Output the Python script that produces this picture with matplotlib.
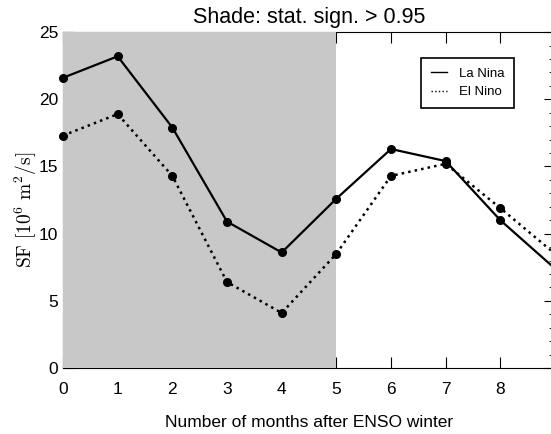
import numpy as np
import matplotlib
matplotlib.use("Agg")
import matplotlib.pyplot as plt
from matplotlib.ticker import MultipleLocator

plt.rcParams['font.family'] = ['Liberation Sans', 'DejaVu Sans']
plt.rcParams['mathtext.fontset'] = 'cm'

months = np.arange(10)
la_nina = [21.6, 23.2, 17.9, 10.9, 8.6, 12.6, 16.3, 15.4, 11.0, 7.4]
el_nino = [17.3, 18.9, 14.3, 6.4, 4.1, 8.5, 14.3, 15.2, 11.9, 8.5]
shade_end = 5

fig = plt.figure(figsize=(5.51, 4.34), dpi=100)
ax = fig.add_axes([0.1143, 0.152, 0.893, 0.774])

ax.axvspan(0, shade_end, color='#c8c8c8', lw=0, zorder=3)
ax.plot(months, la_nina, '-', color='k', lw=1.6, marker='o', ms=5.5, zorder=4,
        label='La Nina', clip_on=False)
ax.plot(months, el_nino, ':', color='k', lw=1.8, marker='o', ms=5.5, zorder=4,
        label='El Nino', clip_on=False)

ax.set_xlim(0, 9)
ax.set_ylim(0, 25)
ax.xaxis.set_major_locator(MultipleLocator(1))
ax.yaxis.set_major_locator(MultipleLocator(5))
ax.yaxis.set_minor_locator(MultipleLocator(1))
ax.tick_params(which='both', direction='in', top=True, right=True,
               labelsize=12.5)
ax.tick_params(axis='x', which='major', length=8, pad=10)
ax.tick_params(axis='y', which='major', length=8, pad=3.5)
ax.tick_params(axis='y', which='minor', length=4)
ax.tick_params(axis='x', which='minor', bottom=False, top=False)

ax.set_title('Shade: stat. sign. > 0.95', fontsize=15.5, pad=6.5)
ax.set_xlabel('Number of months after ENSO winter', fontsize=12.5, labelpad=13)
ax.set_ylabel(r'$\mathrm{SF}\ [10^6\ \mathrm{m}^2/\mathrm{s}]$', fontsize=14)
ax.yaxis.set_label_coords(-0.048, 0.47)

leg = ax.legend(loc='upper right', bbox_to_anchor=(0.917, 0.923), fontsize=9.5,
                handlelength=1.2, handletextpad=0.9, markerscale=0,
                fancybox=False, edgecolor='k', framealpha=1, borderpad=0.75,
                labelspacing=0.45, borderaxespad=0)
leg.set_zorder(5)
for h in leg.legend_handles:
    h.set_marker('')
    h.set_linewidth(1.0)
leg.get_frame().set_linewidth(1.2)

fig.savefig('out.png', dpi=100)
